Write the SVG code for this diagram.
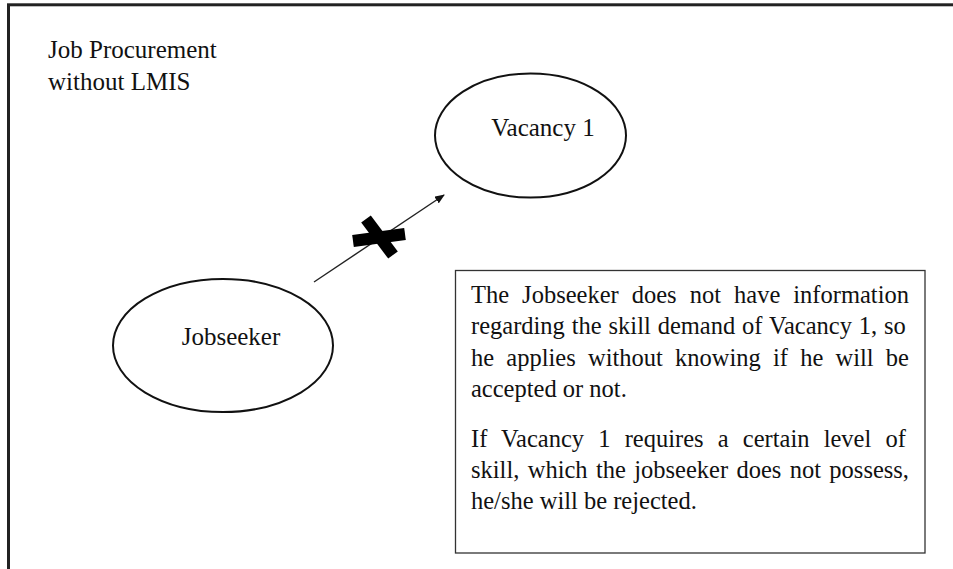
<svg xmlns="http://www.w3.org/2000/svg" width="953" height="569" viewBox="0 0 953 569">
<style>
text{font-family:"Liberation Serif","Times New Roman",serif;fill:#111}
.t{font-size:25px}
.b{font-size:24.5px}
.node{fill:#fff;stroke:#111;stroke-width:2}
</style>
<defs>
<marker id="ah" markerWidth="10" markerHeight="8" refX="9" refY="4" orient="auto" markerUnits="userSpaceOnUse" viewBox="0 0 10 8">
<path d="M0,0 L10,4 L0,8 Z" fill="#111"/>
</marker>
</defs>
<rect width="953" height="569" fill="#fff"/>
<rect x="8.5" y="4.8" width="1000" height="1000" fill="none" stroke="#222" stroke-width="3"/>
<g id="title">
<text class="t" x="48" y="58">Job Procurement</text>
<text class="t" x="48" y="90">without LMIS</text>
</g>
<g id="connectors">
<line x1="314" y1="282" x2="444" y2="195" stroke="#222" stroke-width="1.4" marker-end="url(#ah)"/>
<g id="cross" fill="#000">
<polygon points="370.8,215.4 397.8,251.4 388.2,258.6 361.2,222.6"/>
<polygon points="352.2,235.1 404.2,228.1 405.8,239.9 353.8,246.9"/>
</g>
</g>
<g id="vacancy1">
<ellipse class="node" cx="530.5" cy="135.5" rx="95.5" ry="62"/>
<text class="t" x="543" y="136" text-anchor="middle">Vacancy 1</text>
</g>
<g id="jobseeker">
<ellipse class="node" cx="223" cy="345.5" rx="110" ry="66.5"/>
<text class="t" x="231" y="345" text-anchor="middle">Jobseeker</text>
</g>
<g id="infobox">
<rect x="455.5" y="270.5" width="469.5" height="282.5" fill="#fff" stroke="#333" stroke-width="1.3"/>
<text class="b" x="471" y="303" word-spacing="6.9">The Jobseeker does not have information</text>
<text class="b" x="471" y="334" word-spacing="0.76">regarding the skill demand of Vacancy 1, so</text>
<text class="b" x="471" y="365.5" word-spacing="6.09">he applies without knowing if he will be</text>
<text class="b" x="471" y="397">accepted or not.</text>
<text class="b" x="471" y="446.5" word-spacing="8.06">If Vacancy 1 requires a certain level of</text>
<text class="b" x="471" y="478" word-spacing="2.23">skill, which the jobseeker does not possess,</text>
<text class="b" x="471" y="509">he/she will be rejected.</text>
</g>
</svg>
